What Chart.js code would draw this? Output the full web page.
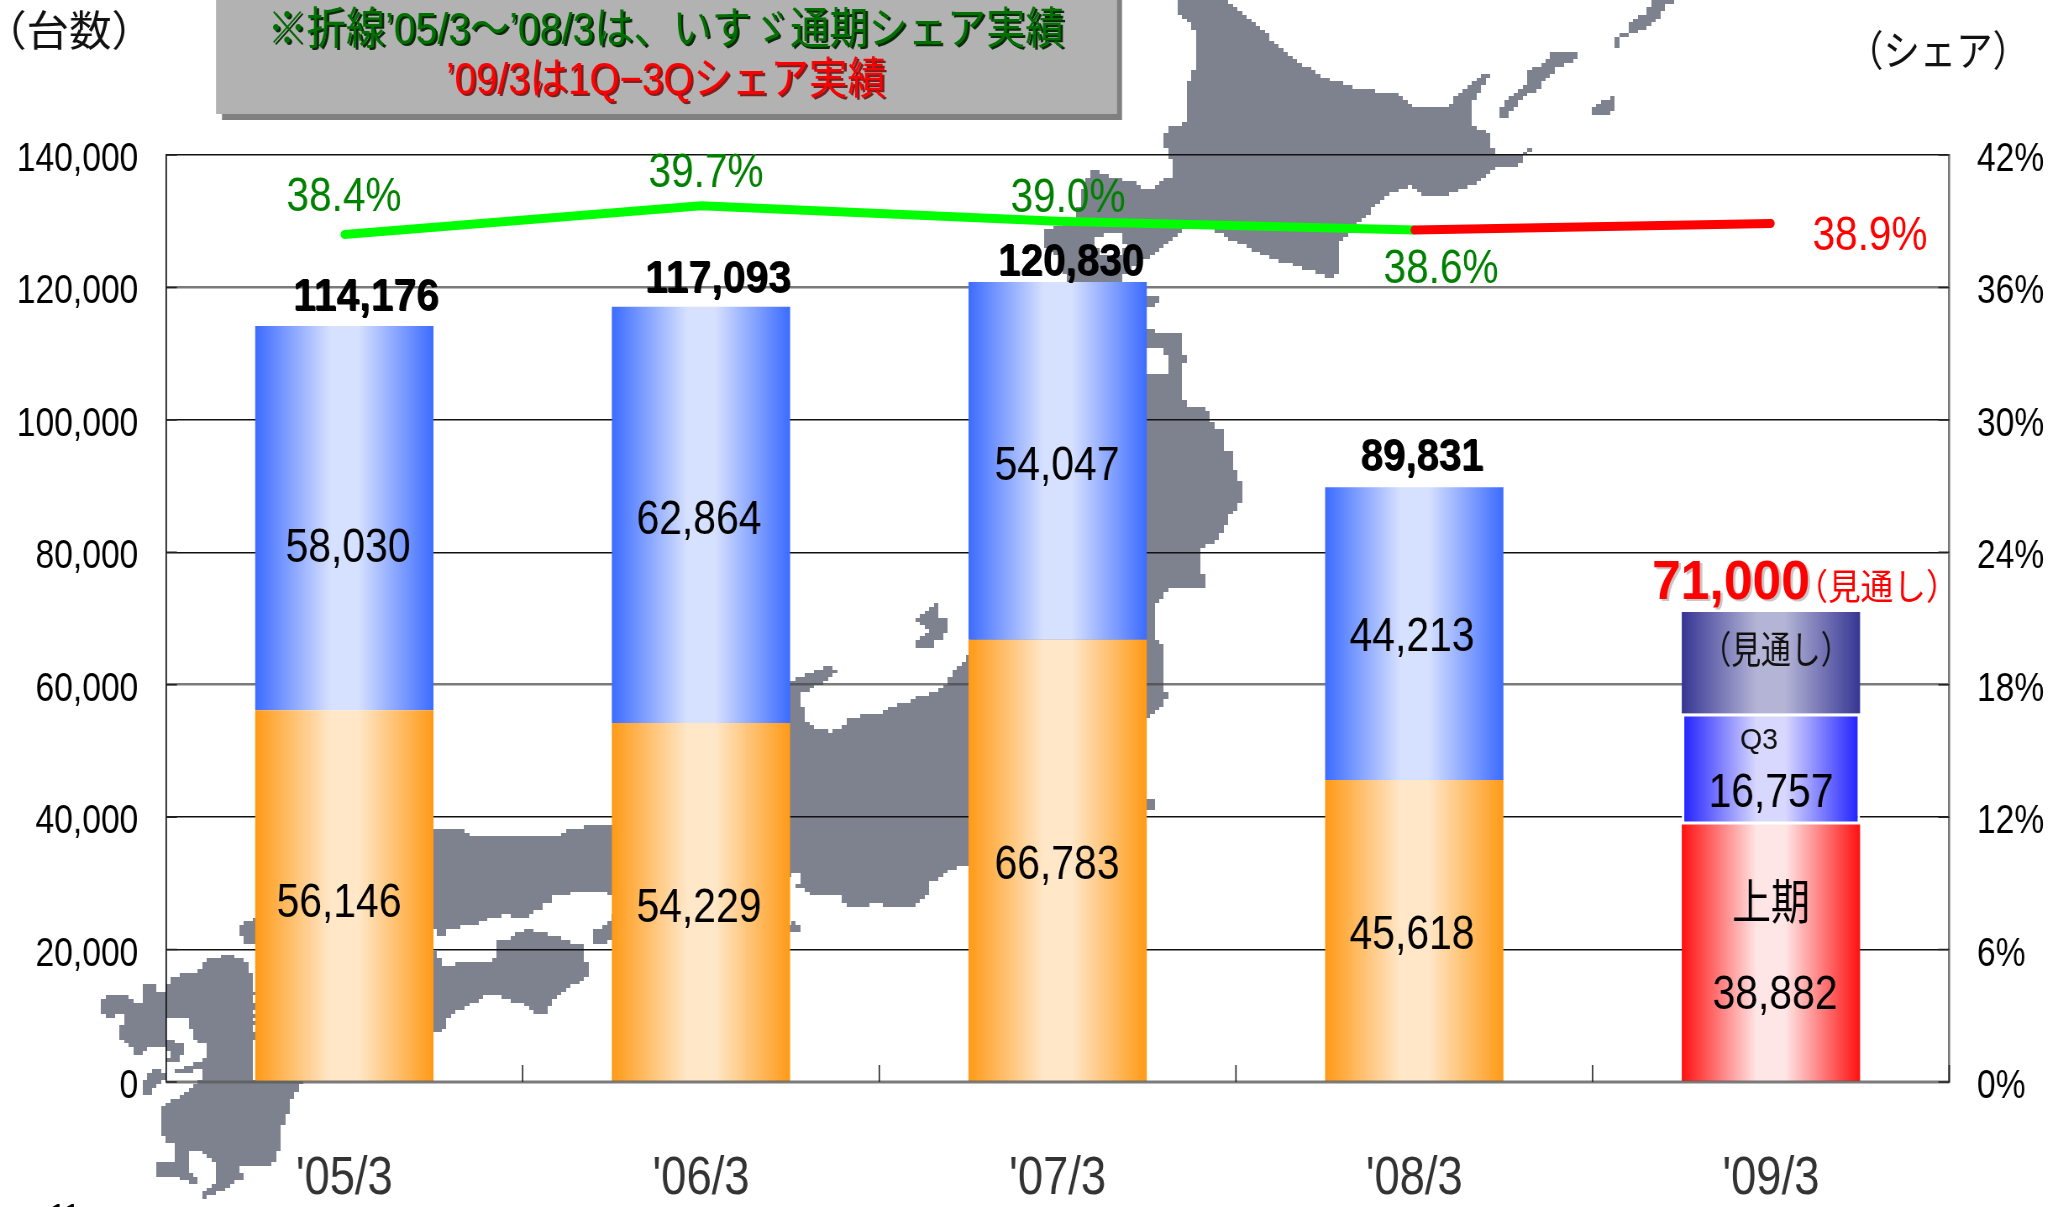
<!DOCTYPE html>
<html lang="ja">
<head>
<meta charset="utf-8">
<title>いすゞ 台数とシェア</title>
<script src="https://cdn.jsdelivr.net/npm/chart.js@4/dist/chart.umd.min.js"></script>
<style>
    html, body { margin: 0; padding: 0; background: #fff; overflow: hidden; width: 2067px; height: 1207px; }
    #c { position: absolute; left: 0; top: 0; transform: scaleX(0.84); transform-origin: 0 0; }
</style>
</head>
<body>
<canvas id="c" width="2461" height="1207"></canvas>
<script>
// values
const categories = ["'05/3", "'06/3", "'07/3", "'08/3", "'09/3"];
const firstHalf = [56146, 54229, 66783, 45618, 38882];
const secondHalf = [58030, 62864, 54047, 44213, 16757];
const forecast = [null, null, null, null, 15361];
const totals = [114176, 117093, 120830, 89831];
const forecastTotal = 71000;
const shareActual = [38.4, 39.7, 39.0, 38.6, null];
const shareLatest = [null, null, null, 38.6, 38.9];

// the reference is squeezed sideways, so the whole canvas is too
const SX = 0.84;
const px = v => v / SX;
const FONT = '"Liberation Sans","Noto Sans CJK JP",sans-serif';

const bandColors = {
    orange: ["#ff9a16", "#ffe7c8"],
    blue: ["#3c6cff", "#d6e0ff"],
    red: ["#ff1010", "#ffe6e6"],
    q3: ["#1f1fff", "#d8d8ff"],
    navy: ["#363694", "#b4b4d6"]
};

// background map outlines, in page pixels
const hokkaido = [1180,0,1227,0,1255,23,1278,45,1303,65,1327,80,1357,88,1400,94,1415,108,1450,107,1455,97,1478,77,1488,73,1488,80,1475,98,1470,110,1470,125,1488,132,1490,145,1498,155,1520,155,1530,147,1530,150,1519,165,1493,168,1477,182,1447,195,1422,195,1410,185,1392,192,1377,203,1362,220,1348,233,1338,245,1338,275,1330,278,1305,268,1268,257,1240,243,1212,230,1182,230,1153,253,1125,272,1120,290,1070,290,1062,262,1045,245,1045,230,1078,218,1080,195,1093,170,1106,175,1133,182,1143,188,1155,188,1175,173,1170,155,1166,147,1166,132,1170,128,1183,125,1189,117,1189,83,1194,68,1198,63,1198,47,1194,28,1183,18,1180,15];
const honshu = [969,657,965,657,965,664,960,664,960,668,956,668,956,671,951,671,951,678,946,678,946,685,941,685,941,689,937,689,937,692,928,692,928,696,918,696,918,699,909,699,909,703,900,703,900,706,890,706,890,709,885,709,885,713,872,713,872,716,857,716,857,720,848,720,844,723,844,730,834,730,834,734,830,734,830,730,817,730,812,727,807,723,807,706,802,706,798,702,798,697,802,693,807,690,812,687,817,683,826,683,826,679,830,676,835,675,835,668,825,668,816,671,806,675,797,678,791,683,780,683,620,824,611,824,587,824,587,828,573,828,563,831,563,835,517,835,517,838,504,838,504,835,484,835,484,838,471,838,471,835,466,835,466,831,462,831,462,828,451,828,451,831,434,831,420,831,420,930,434,930,437,930,437,937,443,937,443,933,448,933,448,929,457,929,457,926,466,926,466,923,480,923,480,919,490,919,490,916,504,916,504,912,507,912,507,916,517,916,517,919,522,919,522,916,532,916,532,912,536,912,536,909,541,909,541,905,546,905,546,902,551,902,551,898,555,895,569,895,569,891,606,891,606,895,611,895,620,895,780,877,791,877,791,874,801,874,801,883,797,883,797,888,806,888,806,891,811,892,811,895,844,895,844,905,873,905,873,902,881,902,881,905,919,905,919,898,924,898,924,895,929,895,929,884,933,881,937,881,937,877,942,877,942,874,947,874,947,871,952,870,957,867,957,864,969,864,980,864,1130,717,1148,717,1162,707,1167,699,1167,692,1162,692,1162,643,1158,643,1153,635,1153,607,1162,598,1167,589,1204,588,1204,574,1198,574,1198,553,1199,550,1204,548,1209,543,1218,540,1218,533,1223,533,1223,526,1227,526,1227,516,1232,516,1232,509,1237,509,1237,502,1241,502,1241,480,1237,480,1237,469,1232,469,1232,452,1227,452,1223,449,1223,431,1218,430,1213,423,1209,420,1209,410,1204,407,1190,407,1185,400,1181,400,1181,363,1185,363,1185,355,1181,355,1181,334,1153,334,1153,330,1147,330,1130,330,1000,500];
const shikoku = [498,939,512,939,512,936,517,936,517,932,526,932,526,929,532,929,532,932,546,932,546,936,560,936,560,939,569,939,569,943,583,943,583,963,588,963,588,978,583,978,583,982,574,982,574,985,569,985,569,989,564,989,564,992,560,992,560,996,555,996,555,999,551,999,551,1006,546,1006,546,1013,535,1013,535,1010,531,1010,531,1006,526,1006,526,1003,512,1003,512,999,503,999,503,996,485,996,480,999,480,1003,471,1003,471,1006,466,1006,466,1010,457,1010,452,1013,452,1017,448,1017,448,1027,443,1027,443,1030,434,1030,434,1038,420,1038,420,953,434,953,438,953,438,960,443,960,443,967,456,967,456,963,489,963,489,960,493,960,493,957,498,957];
const kyushuCrop = [495,112,486,112,486,103,471,103,471,60,444,60,444,50,429,50,429,40,400,40,400,60,342,60,342,90,327,90,327,103,273,103,273,112,243,112,243,130,230,135,230,153,192,153,192,132,160,132,160,185,120,185,120,175,108,175,108,165,48,165,48,175,33,175,33,220,48,220,48,232,78,232,78,222,105,222,105,258,90,258,90,303,102,303,117,312,117,325,132,325,132,345,150,345,150,335,162,335,162,325,192,325,192,322,228,322,228,258,220,240,232,232,285,232,300,240,300,272,315,272,315,300,357,312,357,350,342,350,342,362,318,362,300,375,258,393,258,405,300,395,342,385,342,415,327,415,327,432,300,445,285,458,258,478,231,490,216,500,216,585,231,585,231,605,258,618,258,655,243,665,201,668,201,700,216,712,273,712,273,720,300,720,300,730,330,730,330,715,315,712,315,698,300,698,300,675,288,672,288,648,300,636,342,636,357,650,372,668,385,668,385,735,370,735,358,750,342,758,342,773,358,773,358,762,385,758,385,750,415,750,415,738,430,738,430,725,456,720,456,695,444,695,444,672,510,672,510,678,540,678,540,665,555,665,555,635,570,635,570,552,582,552,582,520,597,520,597,480,612,480,612,458,625,458,625,435,640,435,640,425,495,425];
const kyushu = kyushuCrop.map((v, i) => i % 2 ? 940 + v / 3 : 90 + v / 3);
const islands = [
    [1549,52,1577,52,1577,59,1556,68,1539,87,1518,103,1506,118,1502,118,1502,105,1524,87,1530,70,1548,62],
    [1594,105,1612,97,1615,98,1615,110,1609,115,1594,115],
    [1615,48,1615,38,1630,30,1630,22,1647,13,1653,2,1660,0,1685,0,1668,3,1662,13,1650,25,1632,33,1619,40,1619,48],
    [1147,295,1157,295,1157,303,1153,307,1147,307,1140,300],
    [918,617,923,617,923,612,928,612,928,609,932,609,932,605,938,605,938,616,947,619,947,633,942,634,942,641,933,642,933,648,918,648,918,637,928,633,928,627,923,627,923,623,918,623],
    [1148,800,1153,800,1153,811,1147,811,1140,805],
    [791,922,798,925,798,933,791,933,785,928],
    [596,929,601,929,601,925,606,925,606,922,610,922,610,915,620,915,620,940,607,940,607,944,596,944],
    [255,918,245,923,241,927,241,936,246,943,255,944,262,930],
    [143,1093,143,1083,148,1080,148,1071,153,1071,153,1068,158,1068,158,1072,164,1072,164,1080,158,1085,153,1090,153,1093],
    [167,1040,176,1040,176,1043,182,1044,182,1057,177,1057,177,1062,167,1062,167,1056,171,1056,171,1051,167,1051]
];
const mapHoles = [
    [1095,240,1105,233,1120,233,1126,245,1120,257,1098,257],
    [1130,349,1166,349,1166,358,1170,358,1170,372,1166,375,1130,375]
];

function trace(g, pts) {
    g.beginPath();
    g.moveTo(pts[0], pts[1]);
    for (let i = 2; i < pts.length; i += 2) g.lineTo(pts[i], pts[i + 1]);
    g.closePath();
    g.fill();
}

// the map is a coarse bitmap in the reference, so rasterise it on a coarse grid
function buildMap() {
    const cw = 4.6, ch = 3.7;
    const off = document.createElement("canvas");
    off.width = Math.ceil(2067 / cw);
    off.height = Math.ceil(1207 / ch);
    const g = off.getContext("2d", { willReadFrequently: true });
    g.scale(1 / cw, 1 / ch);
    g.fillStyle = "#000";
    [hokkaido, honshu, shikoku, kyushu].concat(islands).forEach(p => trace(g, p));
    g.globalCompositeOperation = "destination-out";
    mapHoles.forEach(p => trace(g, p));
    const img = g.getImageData(0, 0, off.width, off.height);
    for (let i = 0; i < img.data.length; i += 4) {
        img.data[i] = 0x7d; img.data[i + 1] = 0x82; img.data[i + 2] = 0x8e;
        img.data[i + 3] = img.data[i + 3] > 110 ? 255 : 0;
    }
    g.putImageData(img, 0, 0);
    return { off, w: off.width * cw, h: off.height * ch };
}
const map = buildMap();

const mapPlugin = {
    id: "mapBackground",
    beforeDraw(chart) {
        const ctx = chart.ctx;
        ctx.save();
        ctx.imageSmoothingEnabled = false;
        ctx.drawImage(map.off, 0, 0, px(map.w), map.h);
        ctx.restore();
    }
};

// text centred on a page position and fitted to the width measured in the reference
function put(ctx, text, x, y, size, width, color, weight, shadow, family) {
    ctx.save();
    ctx.font = (weight || "normal") + " " + size + "px " + (family || FONT);
    ctx.textAlign = "center";
    ctx.textBaseline = "middle";
    ctx.translate(px(x), y + 3);
    ctx.scale(px(width) / ctx.measureText(text).width, 1);
    if (shadow) {
        ctx.fillStyle = shadow[0];
        ctx.fillText(text, shadow[1], shadow[2]);
    }
    ctx.fillStyle = color;
    ctx.fillText(text, 0, 0);
    ctx.restore();
}

const fmt = v => v.toLocaleString("en-US");

const firstHalfPos = [[339, 901], [699, 906], [1057, 863], [1412, 933], [1775, 993]];
const secondHalfPos = [[348, 546], [699, 518], [1057, 464], [1412, 635], [1771, 791]];
const totalPos = [[366, 295], [718, 277], [1071, 260], [1422, 455]];
const sharePos = [[344, 194], [706, 170], [1068, 195], [1441, 266]];

const notesPlugin = {
    id: "notes",
    afterDatasetsDraw(chart) {
        const ctx = chart.ctx;
        const y = chart.scales.y, y1 = chart.scales.y1;
        const a = chart.chartArea;
        ctx.save();
        // bottom line sits over the bars, ticks point inwards
        ctx.strokeStyle = "rgba(90,90,90,0.8)";
        ctx.lineWidth = 3;
        ctx.beginPath();
        ctx.moveTo(a.left, a.bottom);
        ctx.lineTo(a.right, a.bottom);
        ctx.stroke();
        ctx.strokeStyle = "#222";
        ctx.lineWidth = 1.6;
        ctx.beginPath();
        for (let i = 1; i <= categories.length; i++) {
            const tx = a.left + i * a.width / categories.length;
            ctx.moveTo(tx, a.bottom);
            ctx.lineTo(tx, a.bottom - 17);
        }
        y1.ticks.forEach(t => {
            const ty = y1.getPixelForValue(t.value);
            ctx.moveTo(a.right - 13, ty);
            ctx.lineTo(a.right, ty);
        });
        y.ticks.forEach(t => {
            const ty = y.getPixelForValue(t.value);
            ctx.moveTo(a.left, ty);
            ctx.lineTo(a.left + 13, ty);
        });
        ctx.stroke();
        ctx.restore();

        // note box
        ctx.save();
        ctx.fillStyle = "#808080";
        ctx.fillRect(px(222), 0, px(900), 120);
        ctx.fillStyle = "#b2b2b2";
        ctx.fillRect(px(216), 0, px(901), 114);
        ctx.restore();
        put(ctx, "※折線’05/3～’08/3は、いすゞ通期シェア実績", 666, 29, 44, 797, "#007000", "normal", ["#0a2a0a", 2.5, 2]);
        put(ctx, "’09/3は1Q−3Qシェア実績", 666, 79, 44, 440, "#ff0000", "normal", ["#7a2020", 2.5, 2]);

        put(ctx, "（台数）", 69, 31, 42, 170, "#111");
        put(ctx, "（シェア）", 1938, 51, 42, 182, "#111");

        firstHalf.forEach((v, i) => put(ctx, fmt(v), firstHalfPos[i][0], firstHalfPos[i][1], 48, 125, "#000"));
        secondHalf.forEach((v, i) => put(ctx, fmt(v), secondHalfPos[i][0], secondHalfPos[i][1], 48, 125, "#000"));
        totals.forEach((v, i) => put(ctx, fmt(v), totalPos[i][0], totalPos[i][1], 44, i === 3 ? 123 : 146, "#000", "bold", ["#000", 0.8, 0.5]));

        shareActual.forEach((v, i) => {
            if (v !== null) put(ctx, v.toFixed(1) + "%", sharePos[i][0], sharePos[i][1], 49, 115, "#008000");
        });
        put(ctx, shareLatest[4].toFixed(1) + "%", 1870, 233, 49, 115, "#ff0000");

        put(ctx, fmt(forecastTotal), 1731, 581, 55, 158, "#ff0000", "bold", ["#c8c8c8", 2.5, 2]);
        put(ctx, "（見通し）", 1877, 587, 36, 163, "#ff0000");
        put(ctx, "（見通し）", 1776, 650, 38, 149, "#111");
        put(ctx, "Q3", 1759, 738, 30, 38, "#111");
        put(ctx, "上期", 1771, 903, 48, 78, "#000");
        put(ctx, "11", 64, 1214, 34, 30, "#000", "bold", null, '"Liberation Serif",serif');
    }
};

function bandFill(pick) {
    return function (context) {
        const pair = bandColors[pick(context.dataIndex)];
        const chart = context.chart;
        if (!chart.chartArea) return pair[0];
        const cx = chart.scales.x.getPixelForValue(context.dataIndex);
        const half = chart.chartArea.width / categories.length / 4;
        const grad = chart.ctx.createLinearGradient(cx - half, 0, cx + half, 0);
        grad.addColorStop(0, pair[0]);
        grad.addColorStop(0.42, pair[1]);
        grad.addColorStop(0.58, pair[1]);
        grad.addColorStop(1, pair[0]);
        return grad;
    };
}

function gridColor(ctx) {
    const v = ctx.tick && ctx.tick.value;
    if (v === 120000 || v === 60000) return "rgba(70,70,70,0.72)";
    return v === 0 ? "rgba(0,0,0,0)" : "#111";
}

new Chart(document.getElementById("c").getContext("2d"), {
    data: {
        labels: categories,
        datasets: [
            {
                type: "line", label: "シェア実績", data: shareActual, yAxisID: "y1",
                borderColor: "#00ff00", borderWidth: 9, pointRadius: 0, tension: 0, order: 1,
                borderCapStyle: "round", borderJoinStyle: "round"
            },
            {
                type: "line", label: "1Q-3Qシェア", data: shareLatest, yAxisID: "y1",
                borderColor: "#ff0000", borderWidth: 9, pointRadius: 0, tension: 0, order: 0,
                borderCapStyle: "round", borderJoinStyle: "round"
            },
            {
                type: "bar", label: "上期", data: firstHalf, yAxisID: "y", order: 2,
                backgroundColor: bandFill(i => i === 4 ? "red" : "orange"),
                barPercentage: 0.5, categoryPercentage: 1
            },
            {
                type: "bar", label: "下期", data: secondHalf, yAxisID: "y", order: 3,
                backgroundColor: bandFill(i => i === 4 ? "q3" : "blue"),
                borderColor: "#fff", borderSkipped: false,
                borderWidth: ctx => ctx.dataIndex === 4 ? 3 : 0,
                barPercentage: 0.5, categoryPercentage: 1
            },
            {
                type: "bar", label: "見通し", data: forecast, yAxisID: "y", order: 4,
                backgroundColor: bandFill(() => "navy"),
                barPercentage: 0.5, categoryPercentage: 1
            }
        ]
    },
    options: {
        responsive: false,
        animation: false,
        devicePixelRatio: 1,
        layout: { padding: { top: 155, left: 0, right: 0, bottom: 0 } },
        plugins: { legend: { display: false }, tooltip: { enabled: false } },
        scales: {
            x: {
                stacked: true,
                grid: { display: false },
                border: { display: false },
                ticks: { color: "#333", font: { size: 54, family: FONT }, padding: 57, maxRotation: 0 },
                afterFit(scale) { scale.height = 125; }
            },
            y: {
                stacked: true,
                min: 0,
                max: 140000,
                ticks: { stepSize: 20000, color: "#000", padding: 33, labelOffset: 5, font: { size: 40, family: FONT } },
                grid: { color: gridColor, lineWidth: ctx => ctx.tick && (ctx.tick.value === 120000 || ctx.tick.value === 60000) ? 2.5 : 1.5, drawTicks: false },
                border: { color: "#111", width: 1.7 },
                afterFit(scale) { scale.width = px(166); }
            },
            y1: {
                position: "right",
                min: 0,
                max: 42,
                ticks: { stepSize: 6, color: "#000", padding: 33, labelOffset: 5, font: { size: 40, family: FONT }, callback: v => v + "%" },
                grid: { display: false, drawTicks: false },
                border: { color: "#777", width: 2.6 },
                afterFit(scale) { scale.width = px(118); }
            }
        }
    },
    plugins: [mapPlugin, notesPlugin]
});
</script>
</body>
</html>
